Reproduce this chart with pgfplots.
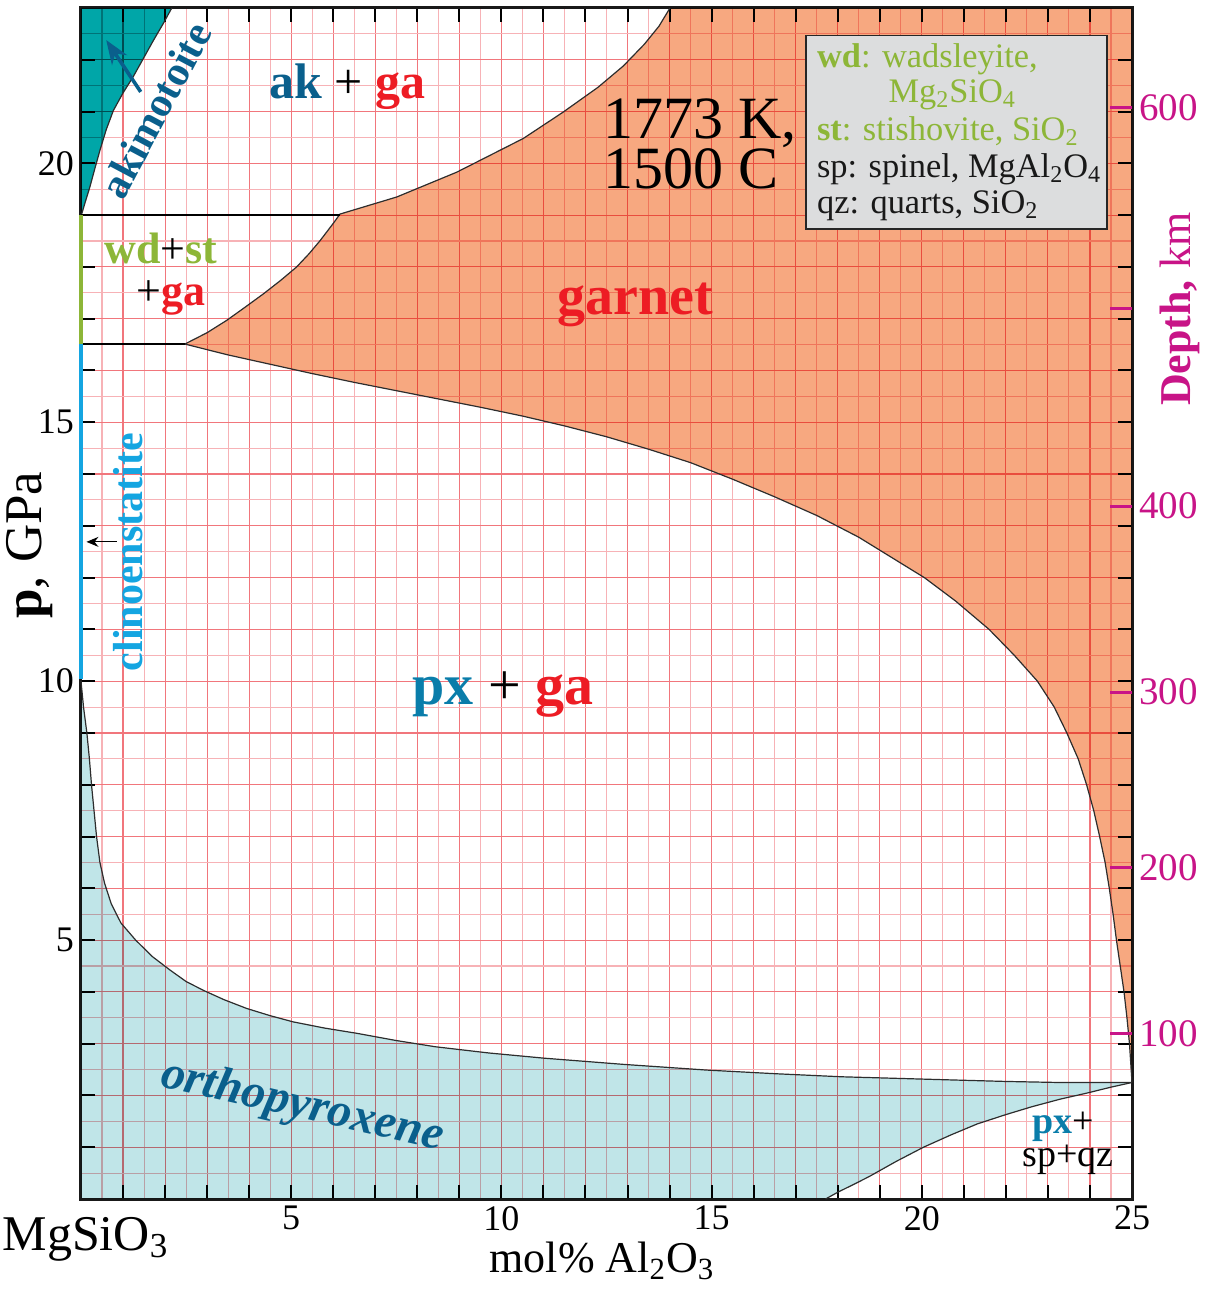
\documentclass[border=0pt]{standalone}
\usepackage{fontspec}
\setmainfont{Liberation Serif}
\usepackage{pgfplots}
\pgfplotsset{compat=1.18}
\usetikzlibrary{arrows.meta}

\definecolor{garnetC}{RGB}{247,168,128}
\definecolor{opxC}{RGB}{192,229,232}
\definecolor{akC}{RGB}{0,166,168}
\definecolor{dblue}{RGB}{10,95,140}
\definecolor{pxblue}{RGB}{10,125,170}
\definecolor{cyanC}{RGB}{20,165,225}
\definecolor{redC}{RGB}{237,28,36}
\definecolor{greenC}{RGB}{141,182,56}
\definecolor{magC}{RGB}{200,20,135}
\definecolor{gridMaj}{RGB}{241,118,124}
\definecolor{gridMin}{RGB}{247,178,182}
\definecolor{boxC}{RGB}{220,221,222}
\definecolor{lineC}{RGB}{45,45,45}

\begin{document}
\begin{tikzpicture}
\useasboundingbox (-40.5pt,-46pt) rectangle (564.5pt,599.5pt);
\begin{axis}[
  at={(0,0)}, anchor=south west,
  scale only axis, width=525.5pt, height=595.5pt,
  xmin=0, xmax=25, ymin=0, ymax=23,
  clip=false,
  xtick={0,1,...,25},
  xticklabels={,,,,,5,,,,,10,,,,,15,,,,,20,,,,,25},
  ytick={0,1,...,23},
  yticklabels={,,,,,5,,,,,10,,,,,15,,,,,20,,,},
  minor x tick num=1, minor y tick num=1,
  tick align=inside, tick pos=both,
  xticklabel pos=bottom, yticklabel pos=left,
  major tick length=7pt, minor tick length=0pt,
  major tick style={black, line width=1pt},
  grid=both,
  major grid style={draw=gridMaj, line width=0.55pt},
  minor grid style={draw=gridMin, line width=0.55pt},
  axis line style={line width=1.5pt, black!90},
  tick label style={font=\fontsize{18}{21}\selectfont},
  /pgf/number format/assume math mode=true,
  ylabel={\textbf{p}, GPa},
  every axis y label/.style={at={(axis description cs:-0.0485,0.549)}, rotate=90, anchor=center, font=\fontsize{26.5}{28}\selectfont},
  xlabel={mol\% Al\textsubscript{2}O\textsubscript{3}},
  every axis x label/.style={at={(axis description cs:0.4957,-0.0621)}, anchor=base, font=\fontsize{22}{26}\selectfont},
]
% ---------- fills (multiplied over the grid) ----------
\addplot[fill=akC, draw=none, blend mode=multiply] coordinates {
 (0,19) (0.02,19.03) (0.1,19.25) (0.21,19.54) (0.33,19.9) (0.45,20.25) (0.6,20.65) (0.77,21.02)
 (1.0,21.36) (1.24,21.67) (1.48,22.02) (1.72,22.37) (1.95,22.69) (2.16,23.0) (0,23)};
\addplot[fill=garnetC, draw=none, blend mode=multiply] coordinates {
 (2.47,16.51) (3.0,16.73) (3.47,16.97) (3.9,17.22) (4.34,17.48) (4.75,17.74) (5.13,18.0) (5.42,18.25) (5.69,18.51) (6.0,18.84) (6.16,19.02)
 (7.51,19.35) (8.94,19.83) (10.52,20.48) (11.47,20.99) (12.3,21.47) (12.9,21.88) (13.4,22.3) (13.75,22.65) (14.01,23.0)
 (25,23) (25,2.25)
 (24.94,3.0) (24.88,3.5) (24.81,4.0) (24.72,4.5) (24.63,5.0) (24.55,5.5) (24.46,6.0) (24.36,6.5) (24.23,7.0)
 (24.09,7.5) (23.92,8.0) (23.72,8.5) (23.45,9.0) (23.15,9.5) (22.75,10.0) (22.2,10.5) (21.6,11.0) (20.8,11.55)
 (20.06,12.0) (19.3,12.38) (18.5,12.78) (17.5,13.2) (16.5,13.56) (15.5,13.9) (14.5,14.22) (13.5,14.48) (12.5,14.72)
 (11.5,14.93) (10.5,15.12) (9.5,15.29) (8.5,15.45) (7.5,15.61) (6.5,15.77) (5.5,15.94) (4.5,16.12) (3.5,16.30) (2.47,16.51)};
\addplot[fill=opxC, draw=none, blend mode=multiply] coordinates {
 (0,10) (0,0) (17.71,0)
 (18.0,0.13) (18.4,0.29) (18.74,0.43) (19.4,0.73) (20.04,1.0) (20.7,1.24) (21.32,1.45) (22.0,1.63) (22.61,1.78) (23.3,1.93) (23.9,2.04) (24.5,2.16) (25,2.25)
 (23.26,2.25) (22,2.27) (20.68,2.30) (19.4,2.33) (18.1,2.36) (16.5,2.42) (14.88,2.49) (12.9,2.60) (11.01,2.72) (9.7,2.82)
 (8.43,2.94) (7.5,3.06) (6.56,3.20) (5.8,3.30) (5.05,3.42) (4.5,3.54) (3.94,3.68) (3.4,3.85) (2.91,4.03) (2.5,4.2)
 (2.12,4.42) (1.7,4.68) (1.3,5.0) (0.95,5.33) (0.72,5.7) (0.56,6.1) (0.45,6.5) (0.37,7.0) (0.31,7.5) (0.25,8.0)
 (0.2,8.5) (0.14,9.0) (0.06,9.5) (0,10)};

% ---------- boundaries ----------
\addplot[lineC, line width=0.6pt, line join=round] coordinates {
 (0,19) (0.02,19.03) (0.1,19.25) (0.21,19.54) (0.33,19.9) (0.45,20.25) (0.6,20.65) (0.77,21.02)
 (1.0,21.36) (1.24,21.67) (1.48,22.02) (1.72,22.37) (1.95,22.69) (2.16,23.0)};
\addplot[lineC, line width=0.6pt, line join=round] coordinates {
 (2.47,16.51) (3.0,16.73) (3.47,16.97) (3.9,17.22) (4.34,17.48) (4.75,17.74) (5.13,18.0) (5.42,18.25) (5.69,18.51) (6.0,18.84) (6.16,19.02)
 (7.51,19.35) (8.94,19.83) (10.52,20.48) (11.47,20.99) (12.3,21.47) (12.9,21.88) (13.4,22.3) (13.75,22.65) (14.01,23.0)};
\addplot[lineC, line width=0.6pt, line join=round] coordinates {
 (2.47,16.51) (3.5,16.30) (4.5,16.12) (5.5,15.94) (6.5,15.77) (7.5,15.61) (8.5,15.45) (9.5,15.29) (10.5,15.12)
 (11.5,14.93) (12.5,14.72) (13.5,14.48) (14.5,14.22) (15.5,13.9) (16.5,13.56) (17.5,13.2) (18.5,12.78) (19.3,12.38)
 (20.06,12.0) (20.8,11.55) (21.6,11.0) (22.2,10.5) (22.75,10.0) (23.15,9.5) (23.45,9.0) (23.72,8.5) (23.92,8.0)
 (24.09,7.5) (24.23,7.0) (24.36,6.5) (24.46,6.0) (24.55,5.5) (24.63,5.0) (24.72,4.5) (24.81,4.0) (24.88,3.5)
 (24.94,3.0) (25,2.25)};
\addplot[lineC, line width=0.6pt, line join=round] coordinates {
 (0,10) (0.06,9.5) (0.14,9.0) (0.2,8.5) (0.25,8.0) (0.31,7.5) (0.37,7.0) (0.45,6.5) (0.56,6.1) (0.72,5.7)
 (0.95,5.33) (1.3,5.0) (1.7,4.68) (2.12,4.42) (2.5,4.2) (2.91,4.03) (3.4,3.85) (3.94,3.68) (4.5,3.54) (5.05,3.42)
 (5.8,3.30) (6.56,3.20) (7.5,3.06) (8.43,2.94) (9.7,2.82) (11.01,2.72) (12.9,2.60) (14.88,2.49) (16.5,2.42)
 (18.1,2.36) (19.4,2.33) (20.68,2.30) (22,2.27) (23.26,2.25) (25,2.25)};
\addplot[lineC, line width=0.6pt, line join=round] coordinates {
 (17.71,0) (18.0,0.13) (18.4,0.29) (18.74,0.43) (19.4,0.73) (20.04,1.0) (20.7,1.24) (21.32,1.45) (22.0,1.63)
 (22.61,1.78) (23.3,1.93) (23.9,2.04) (24.5,2.16) (25,2.25)};
\addplot[black, line width=1.2pt] coordinates {(0,19) (6.16,19)};
\addplot[black, line width=0.9pt] coordinates {(0,16.51) (2.47,16.51)};
\addplot[greenC, line width=1.6pt] coordinates {(0,16.51) (0,19)};
\addplot[cyanC, line width=1.6pt] coordinates {(0,10.05) (0,16.51)};

% arrows
\draw[-{Stealth[length=12pt,width=9pt]}, dblue, line width=1.8pt] (axis cs:1.42,21.38) -- (axis cs:0.6,22.38);
\draw[-{Stealth[length=6pt,width=5pt]}, black, line width=0.6pt] (axis cs:0.85,12.69) -- (axis cs:0.13,12.69);

% legend box
\draw[fill=boxC, draw=black!85, line width=0.8pt] (axis cs:17.25,18.73) rectangle (axis cs:24.41,22.47);
\node[anchor=base west, inner sep=0pt, text=greenC, font=\fontsize{17.2}{19}\selectfont] at (axis cs:17.5,21.86) {\textbf{wd}: wadsleyite,};
\node[anchor=base west, inner sep=0pt, text=greenC, font=\fontsize{17.2}{19}\selectfont] at (axis cs:19.2,21.18) {Mg\textsubscript{2}SiO\textsubscript{4}};
\node[anchor=base west, inner sep=0pt, text=greenC, font=\fontsize{17.2}{19}\selectfont] at (axis cs:17.5,20.44) {\textbf{st}: stishovite, SiO\textsubscript{2}};
\node[anchor=base west, inner sep=0pt, text=black!90, font=\fontsize{17.2}{19}\selectfont] at (axis cs:17.5,19.73) {sp: spinel, MgAl\textsubscript{2}O\textsubscript{4}};
\node[anchor=base west, inner sep=0pt, text=black!90, font=\fontsize{17.2}{19}\selectfont] at (axis cs:17.5,19.03) {qz: quarts, SiO\textsubscript{2}};

% region labels
\node[anchor=base, inner sep=0pt, font=\fontsize{25}{28}\selectfont\bfseries] at (axis cs:6.33,21.25)
  {\textcolor{dblue}{ak} {\mdseries +} \textcolor{redC}{ga}};
\node[anchor=base west, inner sep=0pt, font=\fontsize{30}{32}\selectfont] at (axis cs:12.42,20.48) {1773 K,};
\node[anchor=base west, inner sep=0pt, font=\fontsize{30}{32}\selectfont] at (axis cs:12.42,19.52) {1500 C};
\node[anchor=base, inner sep=0pt, font=\fontsize{28}{30}\selectfont\bfseries, text=redC] at (axis cs:13.18,17.08) {garnet};
\node[anchor=base, inner sep=0pt, font=\fontsize{29}{31}\selectfont\bfseries] at (axis cs:10.04,9.54)
  {\textcolor{pxblue}{px} {\mdseries +} \textcolor{redC}{ga}};
\node[anchor=base, inner sep=0pt, font=\fontsize{22}{24}\selectfont\bfseries] at (axis cs:1.90,18.06)
  {\textcolor{greenC}{wd}{\mdseries +}\textcolor{greenC}{st}};
\node[anchor=base, inner sep=0pt, font=\fontsize{22}{24}\selectfont\bfseries] at (axis cs:2.14,17.26)
  {{\mdseries +}\textcolor{redC}{ga}};
\node[rotate=62, anchor=center, inner sep=0pt, font=\fontsize{21}{24}\selectfont\bfseries, text=dblue] at (axis cs:1.77,21.03) {akimotoite};
\node[rotate=90, anchor=center, inner sep=0pt, font=\fontsize{21}{24}\selectfont\bfseries, text=cyanC] at (axis cs:1.12,12.49) {clinoenstatite};
\node[rotate=-12.8, anchor=center, inner sep=0pt, font=\fontsize{24}{26}\selectfont\bfseries\itshape, text=dblue] at (axis cs:5.26,1.78) {orthopyroxene};
\node[anchor=base, inner sep=0pt, font=\fontsize{19}{22}\selectfont] at (axis cs:23.36,1.27)
  {\textbf{\textcolor{pxblue}{px}}+};
\node[anchor=base, inner sep=0pt, font=\fontsize{19}{22}\selectfont] at (axis cs:23.48,0.62) {sp+qz};
\node[anchor=base, inner sep=0pt, font=\fontsize{25}{28}\selectfont] at (axis cs:0.107,-0.985) {MgSiO\textsubscript{3}};
\end{axis}

\begin{axis}[
  at={(0,0)}, anchor=south west,
  scale only axis, width=525.5pt, height=595.5pt,
  xmin=0, xmax=25, ymin=0, ymax=23,
  axis x line=none, axis y line*=right,
  axis line style={draw=none},
  ytick={3.20,6.40,9.79,13.38,17.2,21.08},
  yticklabels={100,200,300,400,,600},
  tick align=inside,
  major tick length=11pt,
  ytick style={magC, line width=1.5pt},
  yticklabel style={text=magC, font=\fontsize{19.5}{22}\selectfont},
  ylabel={\textbf{Depth,} km},
  every axis y label/.style={at={(axis description cs:1.046,0.747)}, rotate=90, anchor=center, text=magC, font=\fontsize{22}{24}\selectfont},
]
\addplot[draw=none] coordinates {(0,0) (25,23)};
\end{axis}
\end{tikzpicture}
\end{document}
